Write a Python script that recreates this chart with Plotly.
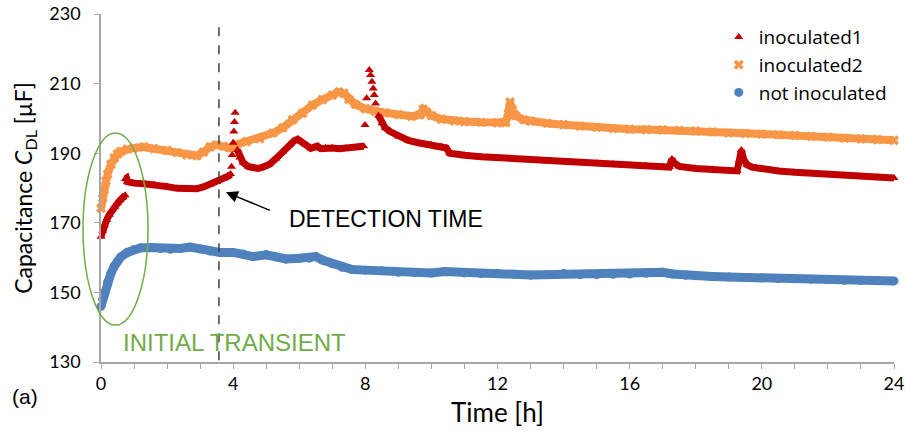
import plotly.graph_objects as go

# ---------------- data ----------------
blue_t = [0.0, 0.05, 0.1, 0.2, 0.3, 0.4, 0.5, 0.6, 0.8, 1.0, 1.2, 1.5, 1.8, 2.1, 2.4, 2.7, 3.0,
          3.3, 3.6, 4.0, 4.3, 4.6, 5.0, 5.3, 5.6, 6.0, 6.3, 6.5, 6.7, 7.0, 7.3, 7.6, 8.0, 8.5,
          9.0, 9.5, 10.0, 10.4, 11.0, 11.5, 12.0, 12.5, 13.0, 13.5, 14.0, 14.5, 15.0, 15.5,
          16.0, 16.5, 17.0, 17.3, 17.7, 18.0, 18.5, 19.0, 19.5, 20.0, 20.5, 21.0, 21.5, 22.0,
          22.5, 23.0, 23.5, 24.0]
blue_v = [146.0, 148.0, 150.0, 153.0, 155.5, 157.5, 159.0, 160.2, 161.5, 162.3, 162.8, 162.9,
          162.6, 162.4, 162.6, 163.0, 162.5, 161.9, 161.5, 161.5, 161.0, 160.3, 160.8, 160.2,
          159.6, 159.8, 159.8, 160.3, 159.3, 158.2, 157.2, 156.6, 156.4, 156.2, 155.8, 155.7,
          155.6, 156.0, 155.6, 155.4, 155.5, 155.2, 155.0, 155.1, 155.4, 155.1, 155.1, 155.2,
          155.3, 155.5, 155.8, 155.3, 154.9, 154.8, 154.6, 154.4, 154.3, 154.2, 154.0, 153.9,
          153.8, 153.7, 153.5, 153.4, 153.4, 153.3]

orange_t = [0.0, 0.05, 0.1, 0.15, 0.2, 0.3, 0.4, 0.5, 0.6, 0.8, 1.0, 1.3, 1.6, 2.0, 2.3, 2.6,
            2.9, 3.1, 3.3, 3.5, 3.7, 3.9, 4.1, 4.4, 4.8, 5.2, 5.5, 5.8, 6.1, 6.4, 6.7, 7.0, 7.2,
            7.35, 7.5, 7.7, 8.0, 8.3, 8.6, 9.0, 9.4, 9.65, 9.75, 9.85, 10.0, 10.3, 10.7, 11.0,
            11.5, 12.0, 12.25, 12.33, 12.38, 12.45, 12.55, 12.8, 13.0, 13.5, 14.0, 14.5, 15.0,
            15.5, 16.0, 16.5, 17.0, 17.5, 18.0, 18.5, 19.0, 19.5, 20.0, 20.5, 21.0, 21.5, 22.0,
            22.5, 23.0, 23.5, 24.0]
orange_v = [174.2, 177.0, 179.5, 182.0, 184.0, 186.8, 188.6, 189.8, 190.5, 191.2, 191.5, 191.8,
            191.3, 190.8, 190.2, 189.5, 189.3, 190.3, 191.8, 192.4, 192.0, 191.5, 192.5, 193.3,
            194.2, 195.8, 197.3, 199.6, 201.5, 203.8, 205.4, 206.7, 207.6, 207.2, 205.5, 204.0,
            202.8, 202.0, 201.6, 201.1, 200.6, 201.0, 202.6, 201.8, 200.8, 199.8, 199.3, 199.1,
            198.9, 198.7, 198.8, 201.5, 204.7, 202.5, 200.8, 199.6, 199.2, 198.6, 198.2, 197.8,
            197.4, 197.1, 196.9, 196.8, 196.7, 196.6, 196.4, 196.1, 195.8, 195.7, 195.5, 195.3,
            195.1, 194.8, 194.6, 194.3, 194.1, 193.9, 193.7]

# None separates record segments (the fast spikes are isolated samples)
red_t = [0.0, 0.05, 0.1, 0.17, 0.25, 0.33, 0.42, 0.5, 0.58, 0.66, 0.73, None,
         0.74, 0.77, 0.8, 0.9, 1.0, 1.3, 1.6, 2.0, 2.3, 2.6, 2.9, 3.1, 3.3, 3.5, 3.7, 3.85, 3.92, None,
         3.95, None, 3.97, None, 4.0, None, 4.02, None, 4.04, None, 4.06, None,
         4.13, 4.2, 4.3, 4.45, 4.6, 4.75, 4.9, 5.1, 5.3, 5.5, 5.7, 5.85, 5.95, 6.05, 6.2, 6.35,
         6.45, 6.55, 6.65, 6.8, 7.0, 7.2, 7.4, 7.6, 7.8, 7.95, None,
         7.99, None, 8.04, None, 8.12, None, 8.16, None, 8.2, None, 8.24, None, 8.27, None, 8.31, None,
         8.4, 8.5, 8.6, 8.75, 9.0, 9.3, 9.6, 10.0, 10.3, 10.45, 10.55, 10.8, 11.0, 11.5, 12.0,
         12.5, 13.0, 13.5, 14.0, 14.5, 15.0, 15.5, 16.0, 16.5, 17.0, 17.2, 17.28, 17.35, 17.5,
         18.0, 18.5, 19.0, 19.25, 19.32, 19.38, 19.45, 19.55, 19.7, 20.0, 20.5, 21.0, 21.5,
         22.0, 22.5, 23.0, 23.5, 24.0]
red_v = [166.0, 167.7, 169.3, 170.8, 172.3, 173.6, 174.6, 175.6, 176.5, 177.3, 177.9, None,
         182.6, 182.8, 181.8, 181.5, 181.4, 181.2, 181.0, 180.4, 179.9, 179.6, 179.8, 180.3,
         181.0, 181.8, 182.7, 183.4, 184.0, None,
         186.1, None, 189.5, None, 193.0, None, 196.2, None, 199.0, None, 201.6, None,
         190.9, 188.8, 187.3, 186.2, 185.7, 185.6, 186.0, 186.8, 188.5, 190.5, 192.4, 193.6,
         194.0, 193.5, 192.4, 191.4, 191.8, 192.0, 191.3, 191.6, 191.5, 191.3, 191.4, 191.6,
         191.8, 192.0, None,
         198.1, None, 205.8, None, 213.9, None, 212.5, None, 210.5, None, 208.6, None, 206.7, None,
         204.3, None,
         200.8, 198.6, 197.3, 196.2, 194.8, 193.7, 193.0, 192.4, 191.9, 191.5, 190.0, 189.6,
         189.4, 189.0, 188.7, 188.3, 188.0, 187.7, 187.5, 187.3, 187.1, 186.8, 186.6, 186.4,
         186.1, 186.0, 188.3, 187.2, 186.2, 185.6, 185.3, 185.0, 184.9, 188.0, 190.9, 188.2,
         186.7, 186.0, 185.4, 184.9, 184.5, 184.2, 183.9, 183.6, 183.3, 183.1, 182.9]

names = ["inoculated1", "inoculated2", "not inoculated"]
x_ticks = [0, 4, 8, 12, 16, 20, 24]
y_ticks = [130, 150, 170, 190, 210, 230]
detection_time = 3.57

# ---------------- style ----------------
RED = "#C00000"
ORANGE = "#F79646"
BLUE = "#4F81BD"
GREEN = "#70AD47"
AXIS = "#A6A6A6"
FONT = "Lato"

fig = go.Figure()

def add_series(t, v, color, symbol, msize, lw, name, rank):
    fig.add_trace(go.Scatter(x=t, y=v, mode="lines", line=dict(color=color, width=lw),
                             connectgaps=False, showlegend=False, hoverinfo="skip",
                             cliponaxis=False))
    fig.add_trace(go.Scatter(x=t, y=v, mode="markers", name=name, legendrank=rank,
                             marker=dict(color=color, symbol=symbol, size=msize,
                                         line=dict(width=0)),
                             cliponaxis=False))

add_series(blue_t, blue_v, BLUE, "circle", 9, 9, names[2], 3)
add_series(orange_t, orange_v, ORANGE, "x", 9, 8, names[1], 2)
add_series(red_t, red_v, RED, "triangle-up", 8, 7, names[0], 1)

# dashed detection line
fig.add_shape(type="line", xref="x", yref="y", x0=detection_time, x1=detection_time,
              y0=130.5, y1=226.8, line=dict(color="#404040", width=1.5, dash="dash"))

# green ellipse around initial transient
fig.add_shape(type="circle", xref="paper", yref="paper",
              x0=-0.0227, x1=0.0593, y0=0.106, y1=0.658,
              line=dict(color=GREEN, width=1.5))

# arrow + label
fig.add_annotation(x=3.78, y=178.8, xref="x", yref="y", ax=46, ay=19, text=" ",
                   showarrow=True, arrowhead=2, arrowsize=1.6, arrowwidth=1.5,
                   arrowcolor="black", font=dict(size=2))
fig.add_annotation(x=5.63, y=171.2, xref="x", yref="y", text="DETECTION TIME",
                   showarrow=False, xanchor="left", yanchor="middle",
                   font=dict(family="Liberation Sans", size=23, color="black"))
fig.add_annotation(x=0.62, y=135.7, xref="x", yref="y", text="INITIAL TRANSIENT",
                   showarrow=False, xanchor="left", yanchor="middle",
                   font=dict(family="Liberation Sans", size=24, color=GREEN))
fig.add_annotation(x=-0.115, y=-0.10, xref="paper", yref="paper", text="(a)",
                   showarrow=False, xanchor="left", yanchor="middle",
                   font=dict(family="Liberation Sans", size=21, color="black"))

fig.update_layout(
    width=905, height=434,
    margin=dict(l=101, r=11, t=14, b=72, autoexpand=False),
    paper_bgcolor="white", plot_bgcolor="white",
    font=dict(family=FONT, color="black"),
    legend=dict(x=0.779, y=0.988, xanchor="left", yanchor="top",
                font=dict(family="Open Sans", size=19, color="black"),
                bgcolor="rgba(0,0,0,0)", itemwidth=30),
    xaxis=dict(range=[0, 24], tickvals=x_ticks, ticks="outside", ticklen=5,
               tickcolor=AXIS, showline=True, linecolor=AXIS, linewidth=1.5,
               showgrid=False, zeroline=False, automargin=False,
               minor=dict(dtick=1, ticks="outside", ticklen=5, tickcolor=AXIS),
               tickfont=dict(family=FONT, size=18, color="black"),
               title=dict(text="Time [h]", font=dict(family=FONT, size=26, color="black"),
                          standoff=10)),
    yaxis=dict(range=[130, 230], tickvals=y_ticks, ticks="outside", ticklen=5,
               tickcolor=AXIS, showline=True, linecolor=AXIS, linewidth=1.5,
               showgrid=False, zeroline=False, ticklabelstandoff=10, automargin=False,
               tickfont=dict(family=FONT, size=18, color="black"),
               title=dict(text="Capacitance <i>C</i><sub>DL</sub> [µF]",
                          font=dict(family=FONT, size=23, color="black"), standoff=10)),
)

fig.write_html("out.html", config={"displayModeBar": False},
               post_script="document.body.style.margin='0';document.body.style.padding='0';")
